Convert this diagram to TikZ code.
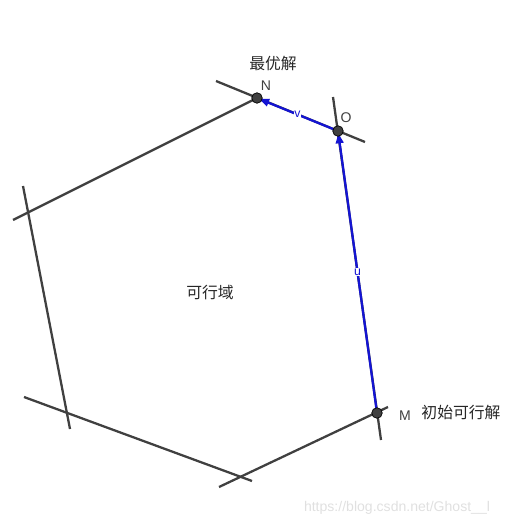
\documentclass[tikz,border=0pt]{standalone}
\usepackage{fontspec}
\setmainfont{Liberation Sans}
\newfontfamily\cjk{Noto Sans CJK SC}
\usetikzlibrary{arrows.meta, positioning, calc}
\definecolor{edgegray}{RGB}{64,64,64}
\definecolor{vecblue}{RGB}{20,20,210}
\tikzset{
  side/.style={draw=edgegray, line width=1.3pt},
  vec/.style={draw=vecblue, line width=1.3pt, -{Latex[length=7pt,width=5pt]}},
  pt/.style={circle, fill=edgegray, draw=black, inner sep=0pt, minimum size=6pt},
  ptlabel/.style={font=\fontsize{8}{9}\selectfont, text=edgegray},
  veclabel/.style={font=\fontsize{7}{8}\selectfont, text=vecblue, fill=white, inner sep=0.5pt},
  cnlabel/.style={font=\cjk\fontsize{9}{10}\selectfont, text=black!85}
}
\begin{document}
\begin{tikzpicture}[x=0.02cm, y=-0.02cm]
			\useasboundingbox (0,0) rectangle (511,523);
			% vertices of the feasible region
			\coordinate (N) at (257,98);
			\coordinate (O) at (338,131);
			\coordinate (M) at (377,413);
			\coordinate (B) at (240,477);
			\coordinate (L) at (67,412);
			\coordinate (T) at (29,212);
			% free ends of the constraint lines
			\coordinate (a1) at (13,220);
			\coordinate (b1) at (216,81);  \coordinate (b2) at (365,142);
			\coordinate (c1) at (333,97);  \coordinate (c2) at (381,440);
			\coordinate (d1) at (219,487); \coordinate (d2) at (388,407);
			\coordinate (e1) at (24,397);  \coordinate (e2) at (252,481);
			\coordinate (f1) at (23,186);  \coordinate (f2) at (70,429);
			\draw[side] (a1) -- (N);
			\foreach \from/\to in {b1/b2,c1/c2,d1/d2,e1/e2,f1/f2}
				\draw[side] (\from) -- (\to);
			% vectors
			\draw[vec] (M) -- node[veclabel] (u) {u} (O);
			\draw[vec] (O) -- node[veclabel] (v) {v} (N);
			\foreach \p in {N,O,M}
				\node[pt] (\p pt) at (\p) {};
			\node[ptlabel] (Nl) at (266,86) {N};
			\node[ptlabel] (Ol) at (346,118) {O};
			\node[ptlabel] (Ml) at (405,416) {M};
			\node[cnlabel] (best) at (273,64) {最优解};
			\node[cnlabel] (init) at (461,413) {初始可行解};
			\node[cnlabel] (region) at (210,293) {可行域};
			\node[font=\fontsize{8}{9}\selectfont, text=black!12] (mark) at (397,508) {https://blog.csdn.net/Ghost\_\_l};
		\end{tikzpicture}
\end{document}
